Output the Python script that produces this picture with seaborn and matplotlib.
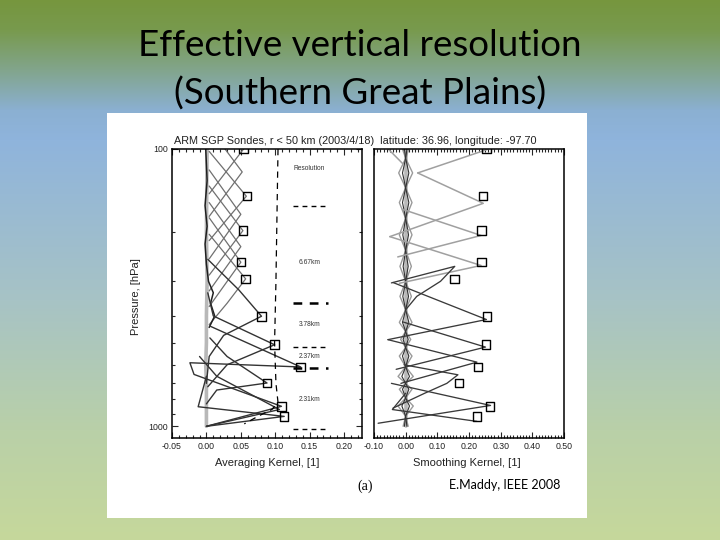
"""
Effective vertical resolution slide: averaging / smoothing kernels (ARM SGP sondes)
"""

import numpy as np
import matplotlib
matplotlib.use("Agg")
import matplotlib.pyplot as plt
from matplotlib.patches import Rectangle
from matplotlib.ticker import FixedLocator, MultipleLocator, NullFormatter
import seaborn as sns

# ---- peak levels and diagonal values (squares) ----
SQ_P = [100, 148, 197, 256, 294, 401, 508, 611, 698, 847, 921]
SQ_AK = [0.054, 0.059, 0.053, 0.050, 0.057, 0.080, 0.099, 0.137, 0.088, 0.109, 0.113]
SQ_SK = [0.255, 0.244, 0.239, 0.239, 0.155, 0.257, 0.253, 0.228, 0.168, 0.267, 0.225]

# ---- averaging kernels, upper (broad, gray lattice) ----
ak_u1_p, ak_u1_x = [100, 145], [0.054, 0.004]
ak_u2_p, ak_u2_x = [100, 121, 175], [0.027, 0.052, 0.004]
ak_u3_p, ak_u3_x = [102, 148, 214], [0.004, 0.058, 0.004]
ak_u4_p, ak_u4_x = [119, 172, 249], [0.004, 0.050, 0.004]
ak_u5_p, ak_u5_x = [136, 197, 285], [0.004, 0.053, 0.004]
ak_u6_p, ak_u6_x = [156, 225, 325], [0.004, 0.050, 0.004]
ak_u7_p, ak_u7_x = [177, 256, 370], [0.004, 0.050, 0.004]
ak_u8_p, ak_u8_x = [203, 294, 360, 430], [0.004, 0.057, 0.030, 0.004]

# ---- averaging kernels, lower (sharp, dark) ----
ak_l1_p, ak_l1_x = [250, 322, 401, 470, 560, 700], [0.002, 0.047, 0.080, 0.025, 0.004, 0.0]
ak_l2_p, ak_l2_x = [330, 400, 508, 600, 720], [0.002, 0.010, 0.099, 0.030, 0.002]
ak_l3_p, ak_l3_x = [435, 611, 590, 650, 847, 1000], [0.005, 0.137, -0.024, -0.018, 0.109, 0.0]
ak_l4_p, ak_l4_x = [480, 560, 698, 740, 830], [0.005, 0.030, 0.088, 0.015, 0.0]
ak_l5_p, ak_l5_x = [660, 850, 921, 1000], [0.0, -0.012, 0.113, 0.0]
ak_l6_p, ak_l6_x = [560, 660, 870, 1000], [-0.010, 0.015, 0.106, 0.0]

# near-zero traces
ak_z1_p = [100, 200, 300, 400, 500, 600, 700, 800, 900, 1000]
ak_z1_x = [0.001, 0.0, 0.001, 0.0, 0.0, -0.001, 0.0, 0.0, 0.0, 0.0]
ak_z2_p = [100, 130, 160, 190, 220, 260, 300, 330, 360, 400, 440]
ak_z2_x = [-0.001, 0.001, -0.002, 0.001, -0.002, 0.0, 0.003, 0.010, 0.006, 0.012, 0.004]

# dashed curve in averaging kernel panel
DASH_P = [100, 300, 500, 700, 820, 870, 920, 980]
DASH_X = [0.104, 0.101, 0.099, 0.101, 0.104, 0.095, 0.075, 0.055]

# resolution legend
RES_BOUND_P = [161, 360, 518, 616, 1019]
RES_BOUND_W = [1.0, 1.8, 1.0, 1.8, 1.0]
RES_LABELS = ["6.67km", "3.78km", "2.37km", "2.31km"]
RES_LABEL_P = [256, 430, 560, 802]

# ---- smoothing kernels ----
sk_g1_p, sk_g1_x = [100, 122], [0.262, 0.038]
sk_g2_p, sk_g2_x = [122, 157, 207], [0.038, 0.245, -0.050]
sk_g3_p, sk_g3_x = [165, 205, 245], [-0.010, 0.238, -0.025]
sk_g4_p, sk_g4_x = [207, 263, 305], [-0.050, 0.238, -0.020]
sk_g5_p, sk_g5_x = [100, 113], [-0.055, -0.009]
sk_d1_p, sk_d1_x = [304, 265, 300, 340, 380], [-0.045, 0.155, 0.110, 0.035, 0.0]
sk_d2_p, sk_d2_x = [303, 412, 487], [-0.040, 0.255, -0.056]
sk_d3_p, sk_d3_x = [420, 518, 623], [-0.010, 0.252, -0.030]
sk_d4_p, sk_d4_x = [487, 587, 700], [-0.056, 0.225, -0.015]
sk_d5_p, sk_d5_x = [600, 652, 700, 760, 860], [-0.005, 0.165, 0.130, 0.060, -0.040]
sk_d6_p, sk_d6_x = [700, 841, 975], [-0.045, 0.268, -0.087]
sk_d7_p, sk_d7_x = [760, 870, 960], [0.0, -0.042, 0.225]

# small diamonds around zero
DIAMOND_P = [100, 108, 122, 138, 156, 178, 204, 232, 265, 300, 340, 380, 422,
             455, 486, 520, 558, 610, 661, 700, 735, 790, 845, 920, 1000]
DIAMOND_OUTER = [0.010, 0.0, 0.022, 0.0, 0.020, 0.0, 0.020, 0.0, 0.018, 0.0, 0.018, 0.0, 0.020,
                 0.0, 0.016, 0.0, 0.020, 0.0, 0.024, 0.0, 0.020, 0.0, 0.024, 0.0, 0.008]
DIAMOND_INNER = [0.004, 0.0, 0.010, 0.0, 0.010, 0.0, 0.009, 0.0, 0.008, 0.0, 0.009, 0.0, 0.010,
                 0.0, 0.008, 0.0, 0.010, 0.0, 0.012, 0.0, 0.010, 0.0, 0.012, 0.0, 0.004]

# slide background gradient
GRAD_Y = [0, 30, 70, 110, 140, 300, 430, 540]
GRAD_C = ['#76963e', '#789a4e', '#82a58d', '#8bb0d2', '#8fb4dc', '#a7c3c5', '#b9d0a8', '#c6d89b']

sns.set_style("ticks")
plt.rcParams['font.family'] = ['Liberation Sans', 'DejaVu Sans']
plt.rcParams['axes.linewidth'] = 1.1

fig = plt.figure(figsize=(7.2, 5.4), dpi=100)

# background
bg = fig.add_axes([0, 0, 1, 1], zorder=-1)
rgb = np.array([matplotlib.colors.to_rgb(c) for c in GRAD_C])
rows = np.arange(540)
grad = np.stack([np.interp(rows, GRAD_Y, rgb[:, i]) for i in range(3)], axis=-1)
grad = np.repeat(grad[:, None, :], 4, axis=1)
bg.imshow(grad, extent=[0, 720, 540, 0], aspect='auto')
bg.add_patch(Rectangle((107, 113), 480, 405, facecolor='white', edgecolor='none'))
bg.set_xlim(0, 720)
bg.set_ylim(540, 0)
bg.axis('off')

fig.text(0.5, 1 - 45 / 540, "Effective vertical resolution", ha='center', va='center',
         fontsize=26.5, color='black', family=['Lato', 'DejaVu Sans'])
fig.text(0.5, 1 - 94 / 540, "(Southern Great Plains)", ha='center', va='center',
         fontsize=26.5, color='black', family=['Lato', 'DejaVu Sans'])

axL = fig.add_axes([172 / 720, 1 - 438 / 540, 190 / 720, 289 / 540], zorder=2)
axR = fig.add_axes([374 / 720, 1 - 438 / 540, 190 / 720, 289 / 540], zorder=2)


def draw(ax, p, x, color, lw, ls='-'):
    sns.lineplot(x=x, y=p, sort=False, estimator=None, color=color, lw=lw,
                 linestyle=ls, ax=ax)


for ax in (axL, axR):
    ax.set_yscale('log')

# left panel
draw(axL, ak_z1_p, ak_z1_x, '#b8b8b8', 2.6)
for p, x in [(ak_u1_p, ak_u1_x), (ak_u2_p, ak_u2_x), (ak_u3_p, ak_u3_x), (ak_u4_p, ak_u4_x),
             (ak_u5_p, ak_u5_x), (ak_u6_p, ak_u6_x), (ak_u7_p, ak_u7_x), (ak_u8_p, ak_u8_x)]:
    draw(axL, p, x, '#707070', 0.9)
draw(axL, ak_z2_p, ak_z2_x, '#202020', 1.1)
for p, x in [(ak_l1_p, ak_l1_x), (ak_l2_p, ak_l2_x), (ak_l3_p, ak_l3_x), (ak_l4_p, ak_l4_x),
             (ak_l5_p, ak_l5_x), (ak_l6_p, ak_l6_x)]:
    draw(axL, p, x, '#333333', 1.0)
draw(axL, DASH_P, DASH_X, 'black', 0.9, (0, (5, 4)))
sns.scatterplot(x=SQ_AK, y=SQ_P, marker='s', s=38, facecolor='none', edgecolor='black',
                linewidth=1.0, ax=axL, zorder=5)

for p, w in zip(RES_BOUND_P, RES_BOUND_W):
    axL.plot([0.126, 0.176], [p, p], color='black', lw=w, linestyle=(0, (3.5, 3)))
axL.text(0.150, 118, "Resolution", fontsize=4.8, ha='center', va='center', color='#333333')
for lab, p in zip(RES_LABELS, RES_LABEL_P):
    axL.text(0.150, p, lab, fontsize=4.8, ha='center', va='center', color='#333333')

# right panel
draw(axR, [100, 1000], [0.0, 0.0], '#b8b8b8', 2.6)
for sgn in (1, -1):
    draw(axR, DIAMOND_P, [sgn * v for v in DIAMOND_OUTER], '#9a9a9a', 1.0)
    draw(axR, DIAMOND_P, [sgn * v for v in DIAMOND_INNER], '#303030', 0.8)
for p, x in [(sk_g1_p, sk_g1_x), (sk_g2_p, sk_g2_x), (sk_g3_p, sk_g3_x), (sk_g4_p, sk_g4_x),
             (sk_g5_p, sk_g5_x)]:
    draw(axR, p, x, '#a0a0a0', 1.1)
for p, x in [(sk_d1_p, sk_d1_x), (sk_d2_p, sk_d2_x), (sk_d3_p, sk_d3_x), (sk_d4_p, sk_d4_x),
             (sk_d5_p, sk_d5_x), (sk_d6_p, sk_d6_x), (sk_d7_p, sk_d7_x)]:
    draw(axR, p, x, '#3a3a3a', 0.95)
sns.scatterplot(x=SQ_SK, y=SQ_P, marker='s', s=38, facecolor='none', edgecolor='black',
                linewidth=1.0, ax=axR, zorder=5)

# axes styling
axL.set_xlim(-0.05, 0.226)
axR.set_xlim(-0.10, 0.50)
for ax in (axL, axR):
    ax.set_ylim(1102, 100)
    ax.yaxis.set_major_locator(FixedLocator([100, 1000]))
    ax.yaxis.set_minor_locator(FixedLocator([200, 300, 400, 500, 600, 700, 800, 900]))
    ax.yaxis.set_minor_formatter(NullFormatter())
    ax.set_xlabel("")
    ax.set_ylabel("")
    ax.tick_params(axis='both', which='both', direction='in', top=True, right=True,
                   labelsize=6.3, width=0.8, pad=3, labelcolor='#222222')
    ax.tick_params(which='major', length=4)
    ax.tick_params(which='minor', length=2)
    for s in ax.spines.values():
        s.set_color('black')

axL.xaxis.set_major_locator(MultipleLocator(0.05))
axL.xaxis.set_minor_locator(MultipleLocator(0.01))
axL.set_xticks([-0.05, 0.0, 0.05, 0.10, 0.15, 0.20])
axL.set_xticklabels(["-0.05", "0.00", "0.05", "0.10", "0.15", "0.20"])
axL.set_yticklabels(["100", "1000"])

axR.set_xticks([-0.1, 0.0, 0.1, 0.2, 0.3, 0.4, 0.5])
axR.set_xticklabels(["-0.10", "0.00", "0.10", "0.20", "0.30", "0.40", "0.50"])
axR.xaxis.set_minor_locator(MultipleLocator(0.01))
axR.tick_params(axis='y', which='both', left=False, right=False, labelleft=False)

fig.text(355 / 720, 1 - 141 / 540,
         "ARM SGP Sondes, r < 50 km (2003/4/18)  latitude: 36.96, longitude: -97.70",
         ha='center', va='center', fontsize=7.8, color='#222222')
fig.text(136 / 720, 1 - 297 / 540, "Pressure, [hPa]", rotation=90, ha='center', va='center',
         fontsize=8, color='#222222')
fig.text(267 / 720, 1 - 463 / 540, "Averaging Kernel, [1]", ha='center', va='center',
         fontsize=8, color='#222222')
fig.text(467 / 720, 1 - 463 / 540, "Smoothing Kernel, [1]", ha='center', va='center',
         fontsize=8, color='#222222')
fig.text(365 / 720, 1 - 486 / 540, "(a)", ha='center', va='center', fontsize=10,
         color='black', family=['Liberation Serif', 'DejaVu Serif'])
fig.text(449 / 720, 1 - 485 / 540, "E.Maddy, IEEE 2008", ha='left', va='center', fontsize=9,
         color='black', family=['Lato', 'DejaVu Sans'])

fig.savefig("out.png", dpi=100)
